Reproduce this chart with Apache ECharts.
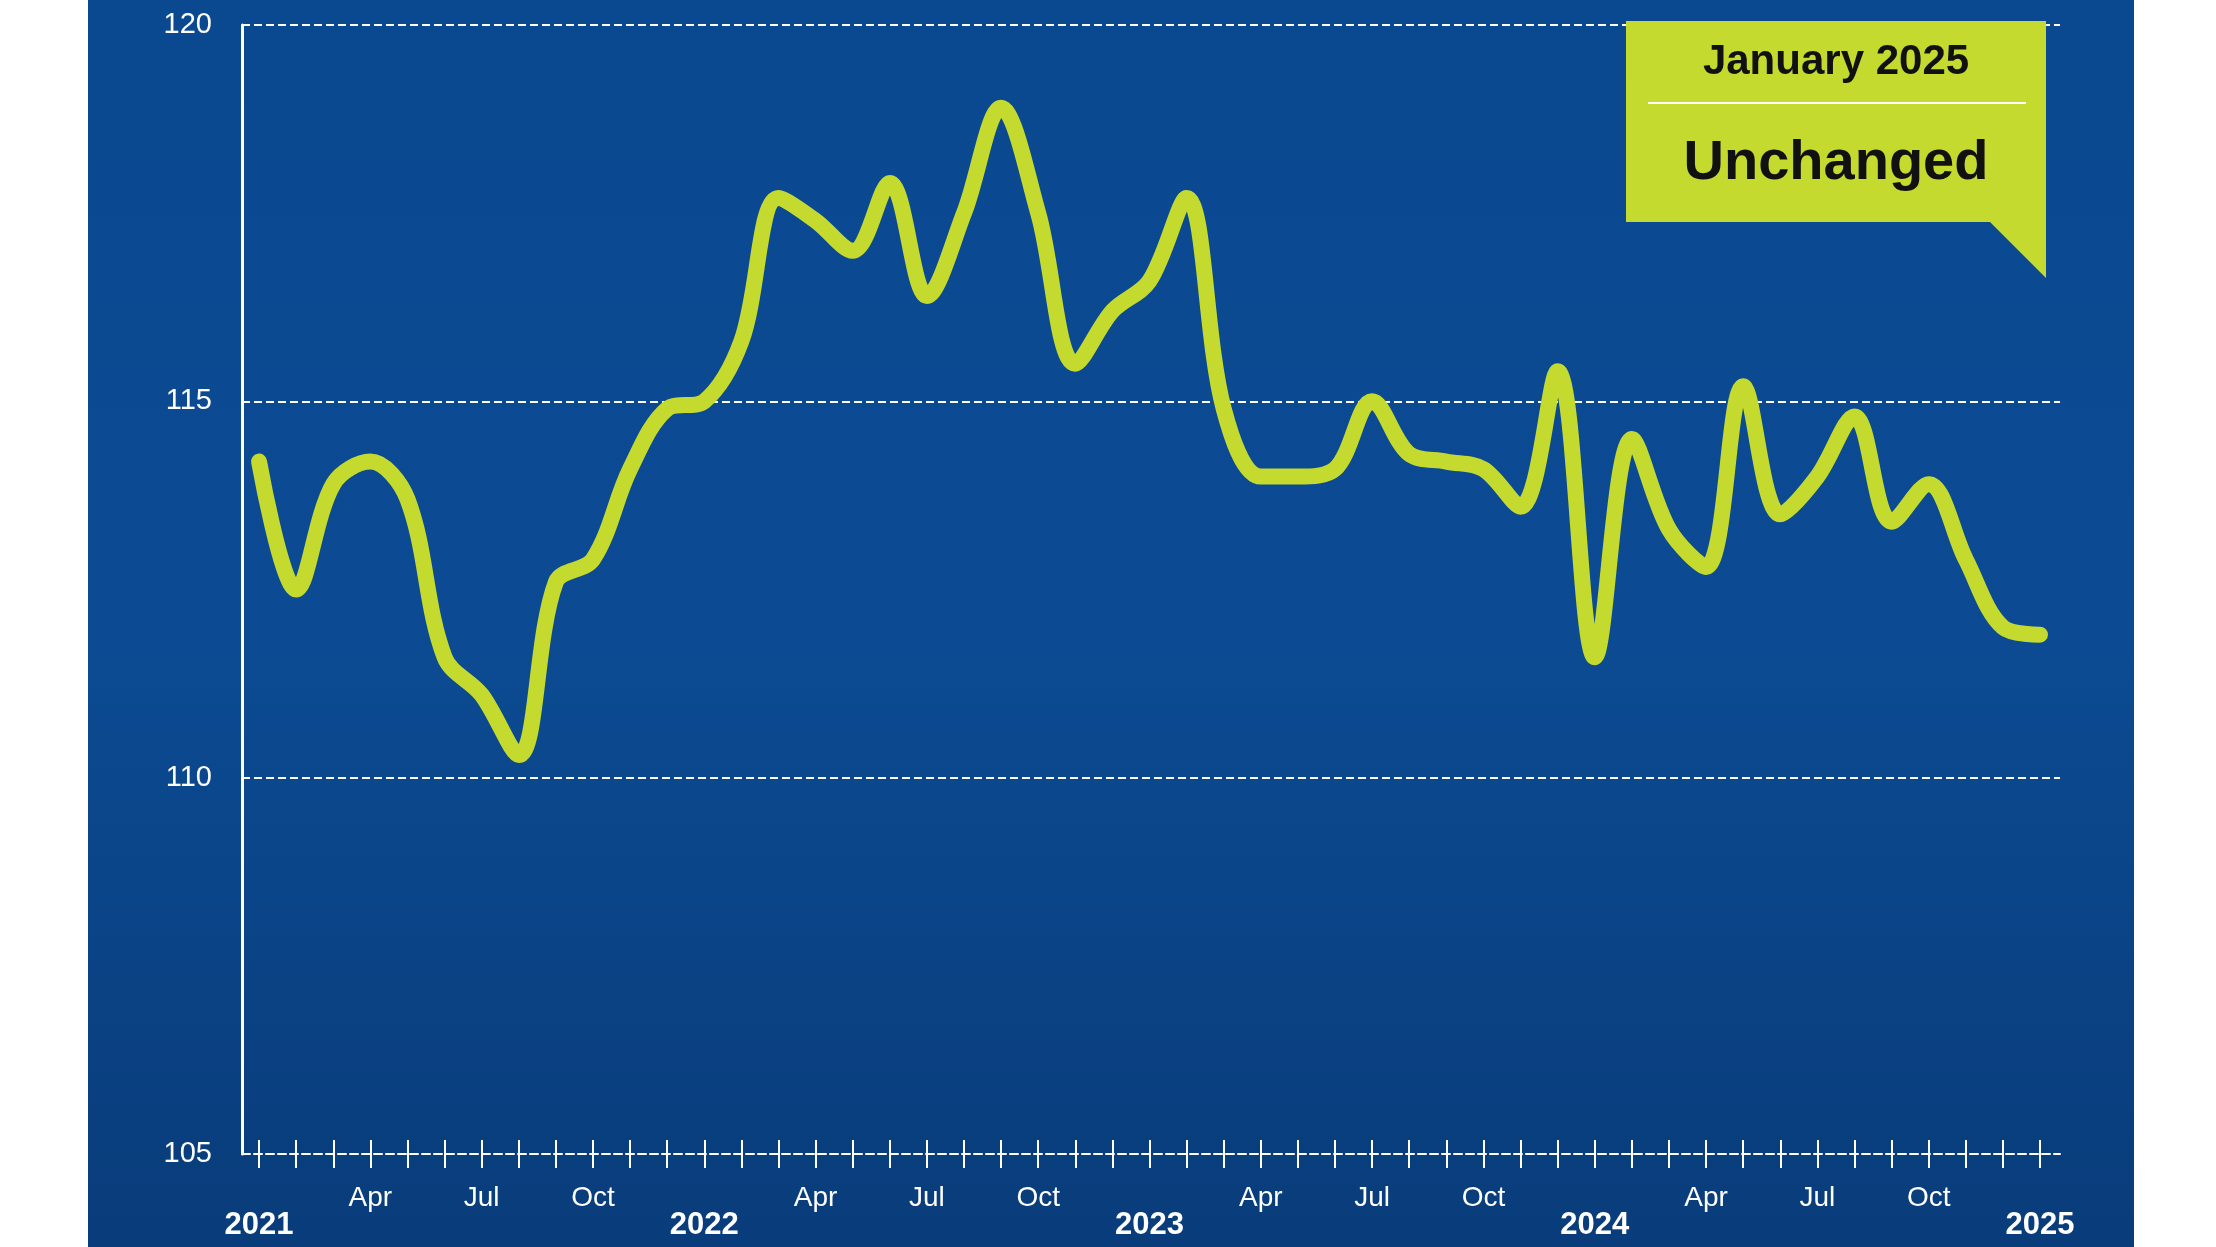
<!DOCTYPE html>
<html>
<head>
<meta charset="utf-8">
<script src="https://cdn.jsdelivr.net/npm/echarts@6/dist/echarts.min.js"></script>
<style>html,body{margin:0;padding:0;background:#fff}#main{width:2216px;height:1247px}</style>
</head>
<body>
<div id="main"></div>
<script>
// month index 0 = Jan 2021 ... 48 = Jan 2025
var values = [114.2, 112.5, 113.9, 114.2, 113.7, 111.6, 111.1, 110.3, 112.6, 112.9, 114.1, 114.9,
  115.0, 115.8, 117.7, 117.4, 117.0, 117.9, 116.4, 117.5, 118.9, 117.5, 115.5, 116.2,
  116.6, 117.7, 114.9, 114.0, 114.0, 114.1, 115.0, 114.3, 114.2, 114.1, 113.6, 115.4,
  111.6, 114.5, 113.3, 112.8, 115.2, 113.5, 114.0, 114.8, 113.4, 113.9, 112.9, 112.0, 111.9];
var tickLabels = {0: '2021', 3: 'Apr', 6: 'Jul', 9: 'Oct', 12: '2022', 15: 'Apr', 18: 'Jul', 21: 'Oct',
  24: '2023', 27: 'Apr', 30: 'Jul', 33: 'Oct', 36: '2024', 39: 'Apr', 42: 'Jul', 45: 'Oct', 48: '2025'};
var yTicks = [105, 110, 115, 120];

var months = values.map(function (v, i) { return i; });
var lime = '#c4da2e';

var chart = echarts.init(document.getElementById('main'));
chart.setOption({
  backgroundColor: '#ffffff',
  animation: false,
  graphic: [
    { type: 'rect', z: -10, shape: { x: 88, y: 0, width: 2046, height: 1247 },
      style: { fill: new echarts.graphic.LinearGradient(0, 0, 0, 1, [
        { offset: 0, color: '#0a4890' }, { offset: 0.5, color: '#0c4b93' }, { offset: 1, color: '#093c7a' }]) } },
    { type: 'polygon', z: 10, shape: { points: [[1626, 21], [2046, 21], [2046, 278], [1990, 222], [1626, 222]] },
      style: { fill: lime } },
    { type: 'line', z: 11, shape: { x1: 1648, y1: 103, x2: 2026, y2: 103 }, style: { stroke: '#ffffff', lineWidth: 2 } },
    { type: 'text', z: 11, style: { x: 1836, y: 62, text: 'January 2025', align: 'center', verticalAlign: 'middle',
      fill: '#111', font: 'bold 42px "Liberation Sans", Arial, sans-serif' } },
    { type: 'text', z: 11, style: { x: 1836, y: 164, text: 'Unchanged', align: 'center', verticalAlign: 'middle',
      fill: '#111', font: 'bold 56px "Liberation Sans", Arial, sans-serif' } }
  ],
  grid: { left: 242, right: 2216 - 2060, top: 25, bottom: 1247 - 1154 },
  xAxis: [{
    type: 'value', min: -0.46, max: 48.54,
    axisLine: { lineStyle: { color: '#fff', type: 'dashed', width: 2 } },
    axisTick: { customValues: months, length: 14, lineStyle: { color: '#fff', width: 2 } },
    axisLabel: {
      customValues: Object.keys(tickLabels).map(Number),
      formatter: function (v) {
        var t = tickLabels[v];
        return /^\d{4}$/.test(t) ? '{y|' + t + '}' : '{m|' + t + '}';
      },
      rich: {
        m: { color: '#fff', fontSize: 28, fontFamily: 'Liberation Sans, Arial', padding: [22, 0, 0, 0] },
        y: { color: '#fff', fontSize: 31, fontWeight: 'bold', fontFamily: 'Liberation Sans, Arial', padding: [48, 0, 0, 0] }
      }
    },
    splitLine: { show: false }
  }, {
    type: 'value', min: -0.46, max: 48.54, position: 'bottom',
    axisLine: { show: false },
    axisTick: { inside: true, customValues: months, length: 14, lineStyle: { color: '#fff', width: 2 } },
    axisLabel: { show: false }, splitLine: { show: false }
  }],
  yAxis: {
    type: 'value', min: 105, max: 120, interval: 5,
    axisLine: { show: true, onZero: false, lineStyle: { color: '#fff', width: 3 } },
    axisTick: { show: false },
    axisLabel: { color: '#fff', fontSize: 29, fontFamily: 'Liberation Sans, Arial', margin: 30,
      customValues: yTicks },
    splitLine: { lineStyle: { color: '#fff', type: 'dashed', width: 2 } }
  },
  series: [{
    type: 'line', smooth: 0.35, showSymbol: false,
    data: values.map(function (v, i) { return [i, v]; }),
    lineStyle: { color: lime, width: 16, cap: 'round', join: 'round' }
  }]
});
</script>
</body>
</html>
